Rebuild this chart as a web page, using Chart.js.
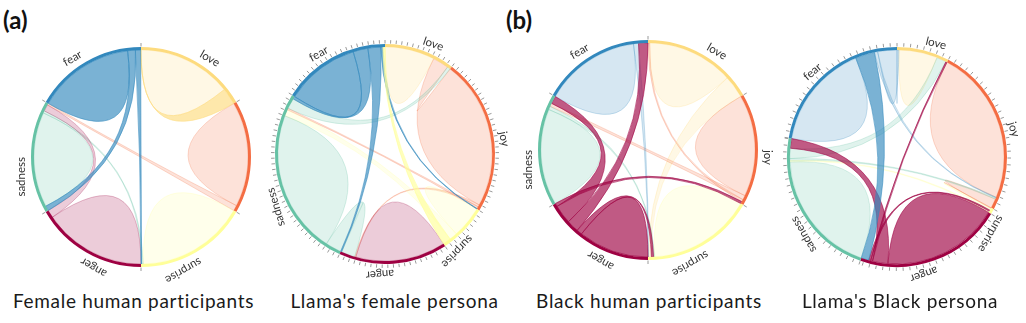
<!DOCTYPE html>
<html><head><meta charset="utf-8">
<script src="https://cdn.jsdelivr.net/npm/chart.js@4.4.1/dist/chart.umd.min.js"></script>
<style>
html,body{margin:0;padding:0;background:#fff;overflow:hidden;width:1026px;height:323px;position:relative;font-family:Lato,sans-serif;}
canvas{position:absolute;}
.title{position:absolute;font:19px Lato,sans-serif;letter-spacing:0.7px;line-height:19px;color:#1a1a1a;white-space:nowrap;transform:translateX(-50%);}
.tag{position:absolute;font:bold 24px Lato,sans-serif;line-height:24px;color:#111;}
</style></head><body>
<div class="tag" style="left:3px;top:8px">(a)</div>
<div class="tag" style="left:506px;top:8px">(b)</div>
<canvas id="c0"></canvas><canvas id="c1"></canvas><canvas id="c2"></canvas><canvas id="c3"></canvas>
<div class="title" id="t0"></div><div class="title" id="t1"></div><div class="title" id="t2"></div><div class="title" id="t3"></div>
<script>
// ---- data ----
const emotions = ['love', 'joy', 'surprise', 'anger', 'sadness', 'fear'];
const panelTitles = ['Female human participants', "Llama's female persona", 'Black human participants', "Llama's Black persona"];

// matrix[i][j] = width of the chord i–j at group i (rows: love, joy, surprise, anger, sadness, fear)
const femaleHumanMatrix = [
  [85, 0, 0, 0, 0, 15],
  [0, 95, 0, 0, 5, 0],
  [0, 0, 98, 0, 1.5, 0.5],
  [0, 0, 0, 93, 7, 0],
  [0, 1.5, 2, 6, 86, 4.5],
  [0.3, 0, 4.7, 0, 7, 88]
];
const femaleLlamaMatrix = [
  [9.4, 3, 0, 0, 0.6, 0],
  [28.1, 0, 0, 0.4, 0.4, 0.1],
  [0, 0, 6, 0, 1.5, 1.5],
  [0, 0.2, 0, 17, 2.6, 0.2],
  [2, 0.3, 1.2, 3, 27, 0.5],
  [0, 0.4, 0.4, 2.4, 2.8, 14]
];
const blackHumanMatrix = [
  [78, 1.5, 20.5, 0, 0, 0],
  [2, 92, 0, 2, 4, 0],
  [2.5, 0, 94, 2, 1, 0.5],
  [0, 3, 5, 64, 17, 11],
  [0, 3, 3, 7, 87, 0],
  [0, 0, 4.5, 8.5, 0, 87]
];
const blackLlamaMatrix = [
  [6, 0, 0, 0.2, 1.5, 0.3],
  [0, 24.2, 1.5, 0, 0.2, 0.1],
  [0, 0.1, 0.3, 0.2, 0.2, 0],
  [0.3, 0, 0.3, 18.3, 2.4, 1.2],
  [1.6, 0.3, 0.2, 1.5, 19.5, 0],
  [3, 0.5, 0, 3, 0, 16.5]
];
// clockwise order of the chord ends inside each group
const femaleHumanOrder = [[0,5],[1,4],[2,4,5],[3,4],[5,4,2,3,1],[5,4,2,0]];
const femaleLlamaOrder = [[0,1,4],[0,3,4,5],[2,4,5],[3,1,4,5],[3,4,2,1,0,5],[5,4,3,1,2]];
const blackHumanOrder = [[1,0,2],[1,4,0,3],[2,4,3,0,5],[3,2,5,4,1],[4,2,1,3],[5,2,3]];
const blackLlamaOrder = [[5,0,4,3],[1,5,4,2],[1,2,3,4],[3,4,0,2,5],[4,2,1,0,3],[5,3,1,0]];
const highlighted = ['fear', 'fear', 'anger', 'anger'];
const tickSteps = [100, 1, 100, 1];

// ---- styles ----
const colors = {love:'#fddb7e', joy:'#f46d43', surprise:'#ffff99', anger:'#9e0142', sadness:'#66c2a5', fear:'#3288bd'};
function rgba(hex, a){const v=parseInt(hex.slice(1),16);return `rgba(${v>>16},${(v>>8)&255},${v&255},${a})`;}

const chordPlugin = {
  id: 'chords',
  beforeDatasetsDraw(chart, args, opts) {
    const {matrix, order, highlight} = opts;
    const arcs = chart.getDatasetMeta(0).data;
    const n = matrix.length;
    const sub = [];
    for (let i = 0; i < n; i++) {
      sub[i] = [];
      const arc = arcs[i];
      const total = matrix[i].reduce((a, b) => a + b, 0);
      const k = (arc.endAngle - arc.startAngle) / total;
      let a = arc.startAngle;
      const ord = order[i].slice();
      for (let j = 0; j < n; j++) if (!ord.includes(j)) ord.push(j);
      for (const j of ord) { const w = matrix[i][j] * k; sub[i][j] = [a, a + w]; a += w; }
    }
    const cx = arcs[0].x, cy = arcs[0].y, r = arcs[0].innerRadius;
    const ribbons = [];
    for (let i = 0; i < n; i++) for (let j = i; j < n; j++) {
      if (matrix[i][j] <= 0 && matrix[j][i] <= 0) continue;
      const src = matrix[i][j] >= matrix[j][i] ? i : j;
      const hl = (i === highlight || j === highlight) ? 1 : 0;
      ribbons.push({i, j, src, hl});
    }
    ribbons.sort((a, b) => a.hl - b.hl);
    const ctx = chart.ctx;
    ctx.save();
    for (const rb of ribbons) {
      const [s0, s1] = sub[rb.i][rb.j], [t0, t1] = sub[rb.j][rb.i];
      ctx.beginPath();
      ctx.moveTo(cx + r * Math.cos(s0), cy + r * Math.sin(s0));
      ctx.arc(cx, cy, r, s0, s1);
      if (rb.i !== rb.j) {
        ctx.quadraticCurveTo(cx, cy, cx + r * Math.cos(t0), cy + r * Math.sin(t0));
        ctx.arc(cx, cy, r, t0, t1);
      }
      ctx.quadraticCurveTo(cx, cy, cx + r * Math.cos(s0), cy + r * Math.sin(s0));
      ctx.closePath();
      const col = colors[emotions[rb.src]];
      ctx.fillStyle = rgba(col, rb.hl ? 0.65 : 0.2);
      ctx.fill();
      ctx.strokeStyle = rgba(col, rb.hl ? 0.8 : 0.35);
      ctx.lineWidth = 0.7;
      ctx.stroke();
    }
    ctx.restore();
  },
  afterDatasetsDraw(chart, args, opts) {
    const {matrix, tickStep} = opts;
    const arcs = chart.getDatasetMeta(0).data;
    const ctx = chart.ctx;
    ctx.save();
    arcs.forEach((arc, i) => {
      const cx = arc.x, cy = arc.y, R = arc.outerRadius;
      const total = matrix[i].reduce((a, b) => a + b, 0);
      const k = (arc.endAngle - arc.startAngle) / total;
      ctx.strokeStyle = '#9a9a9a';
      ctx.lineWidth = 1;
      for (let v = 0; v < total - 1e-9; v += tickStep) {
        const a = arc.startAngle + v * k;
        ctx.beginPath();
        ctx.moveTo(cx + (R + 0.5) * Math.cos(a), cy + (R + 0.5) * Math.sin(a));
        ctx.lineTo(cx + (R + 4) * Math.cos(a), cy + (R + 4) * Math.sin(a));
        ctx.stroke();
      }
      const mid = (arc.startAngle + arc.endAngle) / 2;
      let th = mid + Math.PI / 2;
      th = ((th % (2 * Math.PI)) + 2 * Math.PI) % (2 * Math.PI);
      ctx.save();
      ctx.translate(cx, cy);
      ctx.rotate(th);
      ctx.fillStyle = '#333';
      ctx.font = '11.5px Lato, sans-serif';
      ctx.textBaseline = 'alphabetic';
      ctx.textAlign = th < Math.PI ? 'left' : 'right';
      ctx.fillText(emotions[i], 0, -(R + 6));
      ctx.restore();
    });
    ctx.restore();
  }
};

const panels = [
  {matrix: femaleHumanMatrix, order: femaleHumanOrder, cx: 141, cy: 157, left: 5, right: 254, titleX: 133.5},
  {matrix: femaleLlamaMatrix, order: femaleLlamaOrder, cx: 385, cy: 154, left: 255, right: 515, titleX: 394.5},
  {matrix: blackHumanMatrix, order: blackHumanOrder, cx: 648, cy: 149.5, left: 518, right: 778, titleX: 649},
  {matrix: blackLlamaMatrix, order: blackLlamaOrder, cx: 897, cy: 156.5, left: 767, right: 1026, titleX: 900}
];

panels.forEach((p, idx) => {
  const cv = document.getElementById('c' + idx);
  const W = p.right - p.left, H = 262;
  cv.width = W; cv.height = H;
  cv.style.left = p.left + 'px';
  cv.style.top = (p.cy - H / 2) + 'px';
  const diff = 2 * p.cx - 2 * p.left - W;
  const pad = {left: Math.max(diff, 0), right: Math.max(-diff, 0), top: 0, bottom: 0};
  new Chart(cv, {
    type: 'doughnut',
    data: {
      labels: emotions,
      datasets: [{
        data: p.matrix.map(row => row.reduce((a, b) => a + b, 0)),
        backgroundColor: emotions.map(e => colors[e]),
        borderWidth: 0,
        radius: 110,
        cutout: '97.3%'
      }]
    },
    options: {
      responsive: false,
      animation: false,
      events: [],
      layout: {padding: pad},
      plugins: {
        legend: {display: false},
        tooltip: {enabled: false},
        chords: {matrix: p.matrix, order: p.order, highlight: emotions.indexOf(highlighted[idx]), tickStep: tickSteps[idx]}
      }
    },
    plugins: [chordPlugin]
  });
  const t = document.getElementById('t' + idx);
  t.textContent = panelTitles[idx];
  t.style.left = p.titleX + 'px';
  t.style.top = '291px';
});
</script>
</body></html>
